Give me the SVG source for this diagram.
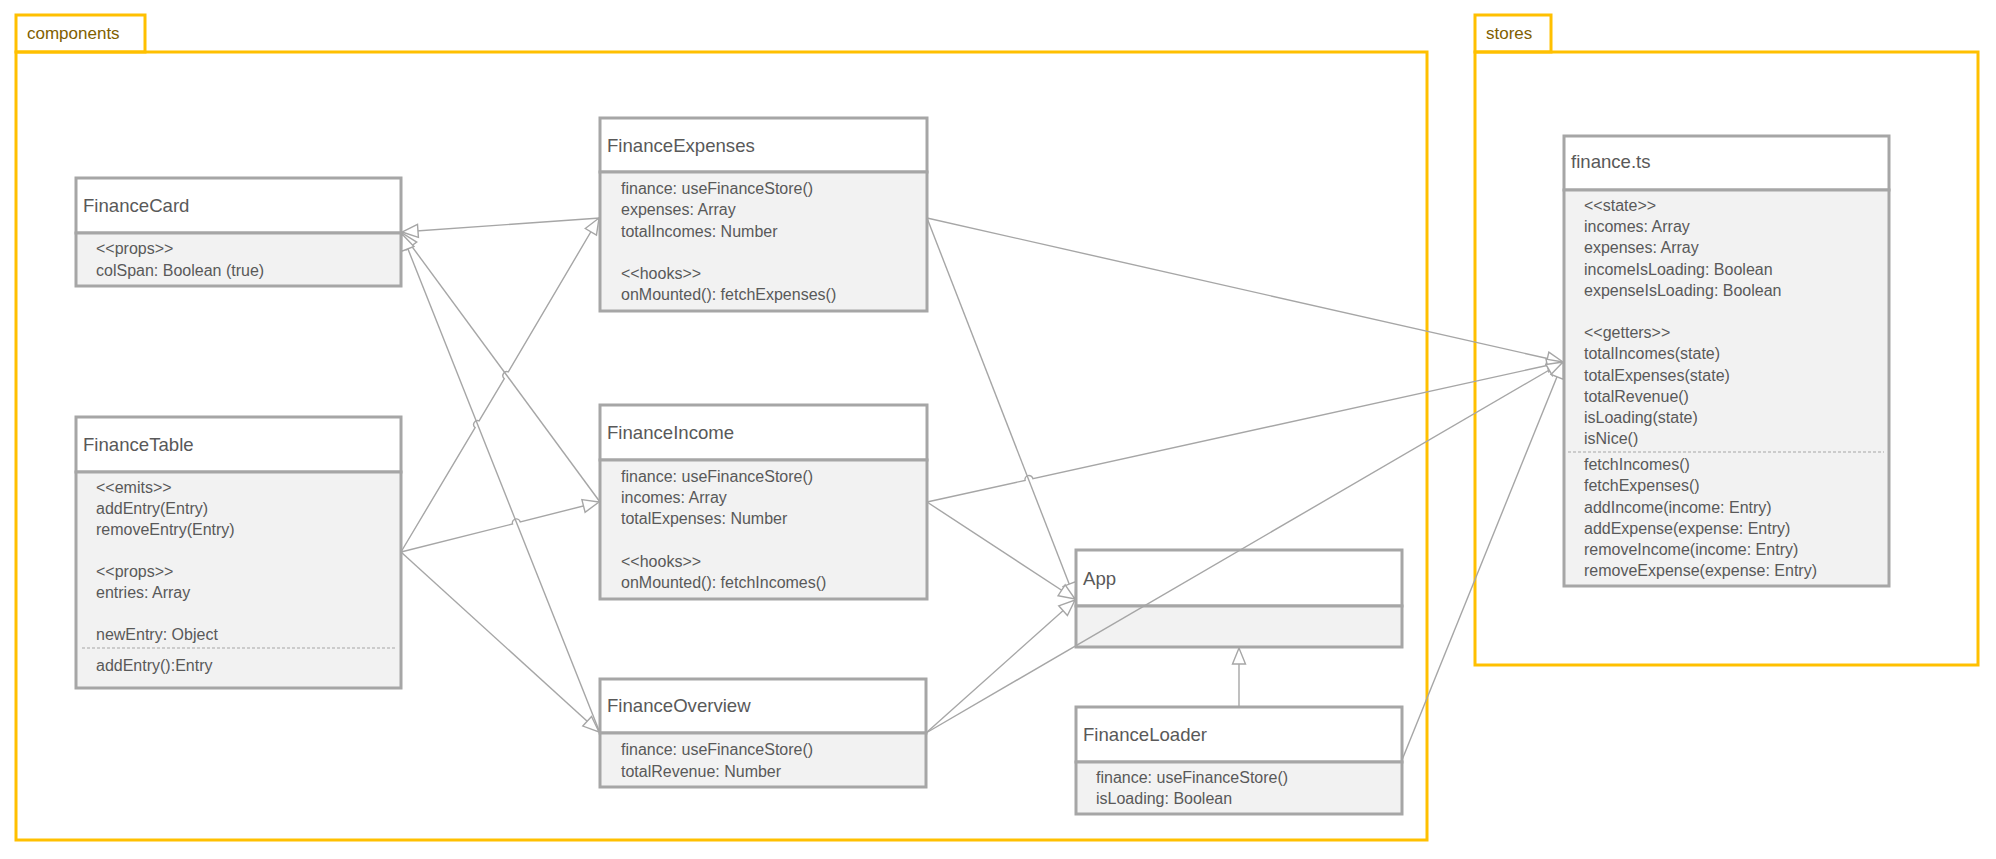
<svg xmlns="http://www.w3.org/2000/svg" width="1996" height="859" viewBox="0 0 1996 859">
  <style>
    .pkg { fill: none; stroke: #ffc000; stroke-width: 3; }
    .pkgtab { fill: #ffffff; stroke: #ffc000; stroke-width: 3; }
    .pkgname { font-family: "Liberation Sans", Arial, sans-serif; font-size: 17px; fill: #7f6000; }
    .head { fill: #ffffff; stroke: #a6a6a6; stroke-width: 3; }
    .body { fill: #f2f2f2; stroke: #a6a6a6; stroke-width: 3; }
    .title { font-family: "Liberation Sans", Arial, sans-serif; font-size: 18.6px; fill: #595959; }
    .attr { font-family: "Liberation Sans", Arial, sans-serif; font-size: 16px; fill: #595959; }
    .sep { stroke: #a6a6a6; stroke-width: 1.2; stroke-dasharray: 3 2; }
    .edge { fill: none; stroke: #a6a6a6; stroke-width: 1.4; marker-end: url(#hollow); }
  </style>
  <defs>
    <marker id="hollow" markerUnits="userSpaceOnUse" markerWidth="20" markerHeight="16" refX="17" refY="7" orient="auto" overflow="visible">
      <path d="M1,0.5 L17,7 L1,13.5 Z" fill="#ffffff" stroke="#a6a6a6" stroke-width="1.4" stroke-linejoin="miter"/>
    </marker>
  </defs>

  <rect width="1996" height="859" fill="#ffffff"/>

  <!-- packages -->
  <g id="pkg-components">
    <rect class="pkgtab" x="16" y="15" width="129" height="37"/>
    <rect class="pkg" x="16" y="52" width="1411" height="788"/>
    <text class="pkgname" x="27" y="39">components</text>
  </g>
  <g id="pkg-stores">
    <rect class="pkgtab" x="1475" y="15" width="76" height="37"/>
    <rect class="pkg" x="1475" y="52" width="503" height="613"/>
    <text class="pkgname" x="1486" y="39">stores</text>
  </g>

  <!-- classes -->
  <g id="FinanceCard">
    <rect class="head" x="76" y="178" width="325" height="55"/>
    <rect class="body" x="76" y="233" width="325" height="53"/>
    <text class="title" x="83" y="212">FinanceCard</text>
    <text class="attr" x="96" y="254">&lt;&lt;props&gt;&gt;</text>
    <text class="attr" x="96" y="276">colSpan: Boolean (true)</text>
  </g>

  <g id="FinanceTable">
    <rect class="head" x="76" y="417" width="325" height="55"/>
    <rect class="body" x="76" y="472" width="325" height="216"/>
    <text class="title" x="83" y="451">FinanceTable</text>
    <text class="attr" x="96" y="493">&lt;&lt;emits&gt;&gt;</text>
    <text class="attr" x="96" y="514">addEntry(Entry)</text>
    <text class="attr" x="96" y="535">removeEntry(Entry)</text>
    <text class="attr" x="96" y="577">&lt;&lt;props&gt;&gt;</text>
    <text class="attr" x="96" y="598">entries: Array</text>
    <text class="attr" x="96" y="640">newEntry: Object</text>
    <line class="sep" x1="82" y1="648" x2="396" y2="648"/>
    <text class="attr" x="96" y="671">addEntry():Entry</text>
  </g>

  <g id="FinanceExpenses">
    <rect class="head" x="600" y="118" width="327" height="54"/>
    <rect class="body" x="600" y="172" width="327" height="139"/>
    <text class="title" x="607" y="152">FinanceExpenses</text>
    <text class="attr" x="621" y="194">finance: useFinanceStore()</text>
    <text class="attr" x="621" y="215">expenses: Array</text>
    <text class="attr" x="621" y="237">totalIncomes: Number</text>
    <text class="attr" x="621" y="279">&lt;&lt;hooks&gt;&gt;</text>
    <text class="attr" x="621" y="300">onMounted(): fetchExpenses()</text>
  </g>

  <g id="FinanceIncome">
    <rect class="head" x="600" y="405" width="327" height="55"/>
    <rect class="body" x="600" y="460" width="327" height="139"/>
    <text class="title" x="607" y="439">FinanceIncome</text>
    <text class="attr" x="621" y="482">finance: useFinanceStore()</text>
    <text class="attr" x="621" y="503">incomes: Array</text>
    <text class="attr" x="621" y="524">totalExpenses: Number</text>
    <text class="attr" x="621" y="567">&lt;&lt;hooks&gt;&gt;</text>
    <text class="attr" x="621" y="588">onMounted(): fetchIncomes()</text>
  </g>

  <g id="FinanceOverview">
    <rect class="head" x="600" y="679" width="326" height="54"/>
    <rect class="body" x="600" y="733" width="326" height="54"/>
    <text class="title" x="607" y="712">FinanceOverview</text>
    <text class="attr" x="621" y="755">finance: useFinanceStore()</text>
    <text class="attr" x="621" y="777">totalRevenue: Number</text>
  </g>

  <g id="App">
    <rect class="head" x="1076" y="550" width="326" height="56"/>
    <rect class="body" x="1076" y="606" width="326" height="41"/>
    <text class="title" x="1083" y="585">App</text>
  </g>

  <g id="FinanceLoader">
    <rect class="head" x="1076" y="707" width="326" height="55"/>
    <rect class="body" x="1076" y="762" width="326" height="52"/>
    <text class="title" x="1083" y="741">FinanceLoader</text>
    <text class="attr" x="1096" y="783">finance: useFinanceStore()</text>
    <text class="attr" x="1096" y="804">isLoading: Boolean</text>
  </g>

  <g id="finance-ts">
    <rect class="head" x="1564" y="136" width="325" height="54"/>
    <rect class="body" x="1564" y="190" width="325" height="396"/>
    <text class="title" x="1571" y="168">finance.ts</text>
    <text class="attr" x="1584" y="211">&lt;&lt;state&gt;&gt;</text>
    <text class="attr" x="1584" y="232">incomes: Array</text>
    <text class="attr" x="1584" y="253">expenses: Array</text>
    <text class="attr" x="1584" y="275">incomeIsLoading: Boolean</text>
    <text class="attr" x="1584" y="296">expenseIsLoading: Boolean</text>
    <text class="attr" x="1584" y="338">&lt;&lt;getters&gt;&gt;</text>
    <text class="attr" x="1584" y="359">totalIncomes(state)</text>
    <text class="attr" x="1584" y="381">totalExpenses(state)</text>
    <text class="attr" x="1584" y="402">totalRevenue()</text>
    <text class="attr" x="1584" y="423">isLoading(state)</text>
    <text class="attr" x="1584" y="444">isNice()</text>
    <line class="sep" x1="1568" y1="452" x2="1884" y2="452"/>
    <text class="attr" x="1584" y="470">fetchIncomes()</text>
    <text class="attr" x="1584" y="491">fetchExpenses()</text>
    <text class="attr" x="1584" y="513">addIncome(income: Entry)</text>
    <text class="attr" x="1584" y="534">addExpense(expense: Entry)</text>
    <text class="attr" x="1584" y="555">removeIncome(income: Entry)</text>
    <text class="attr" x="1584" y="576">removeExpense(expense: Entry)</text>
  </g>

  <!-- generalization connectors (hollow heads at the parent) -->
  <g id="connectors">
    <path class="edge" d="M600,218 L402,232"/>
    <path class="edge" d="M600,502 L402,233"/>
    <path class="edge" d="M600,733 L402,234"/>
    <path class="edge" d="M401,552 L475.1,427.6 A4,4 0 0 1 479.1,420.8 L504.3,378.7 A4,4 0 0 1 508.3,371.9 L599,218"/>
    <path class="edge" d="M401,552 L512.5,524 A4,4 0 0 1 520.3,522 L599,502"/>
    <path class="edge" d="M401,552 L599,732"/>
    <path class="edge" d="M927,218 L1075,599"/>
    <path class="edge" d="M927,502 L1075,599"/>
    <path class="edge" d="M926,733 L1075,600"/>
    <path class="edge" d="M1239,707 L1239,648"/>
    <path class="edge" d="M927,218 L1563,362"/>
    <path class="edge" d="M927,502 L1025.1,480.4 A4,4 0 0 1 1032.9,478.6 L1563,362"/>
    <path class="edge" d="M926,733 L1563,362"/>
    <path class="edge" d="M1402,760 L1563,362"/>
  </g>
</svg>
